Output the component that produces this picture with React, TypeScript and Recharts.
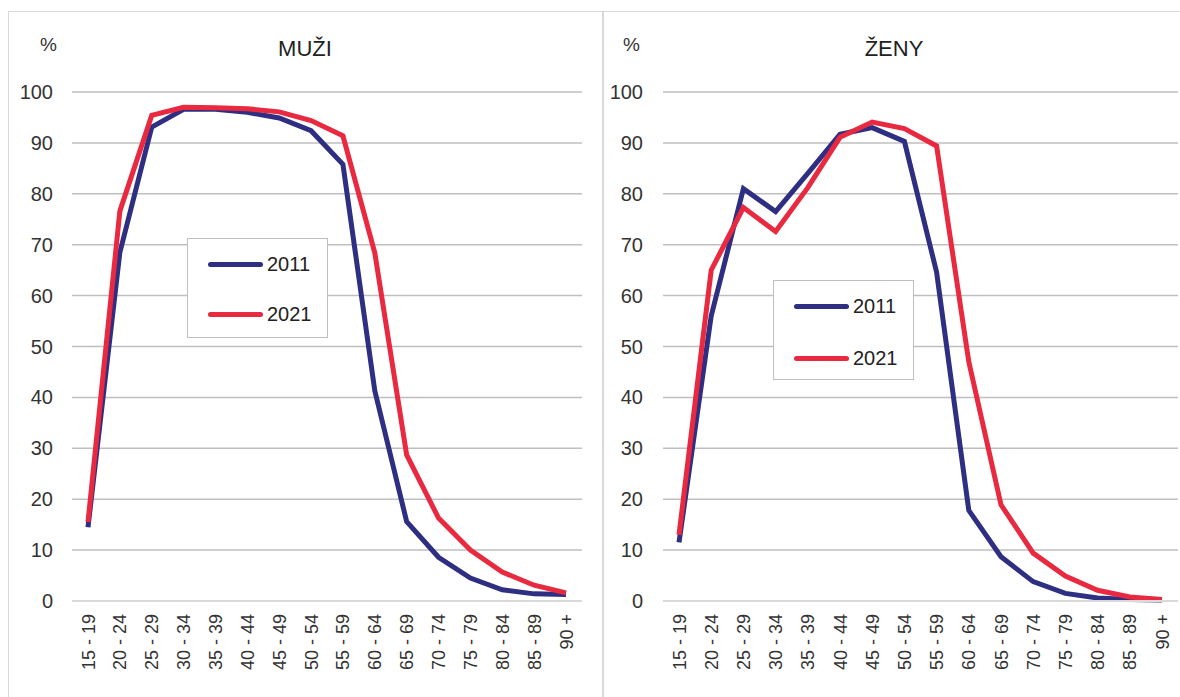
import React from "react";
import { LineChart, Line, XAxis, YAxis, CartesianGrid, Legend } from "recharts";

const ageGroups = [
  "15 - 19", "20 - 24", "25 - 29", "30 - 34", "35 - 39", "40 - 44", "45 - 49", "50 - 54",
  "55 - 59", "60 - 64", "65 - 69", "70 - 74", "75 - 79", "80 - 84", "85 - 89", "90 +",
];

const yTicks = [0, 10, 20, 30, 40, 50, 60, 70, 80, 90, 100];

const menY2011 = [14.5, 68.5, 93.1, 96.6, 96.6, 96.0, 94.9, 92.4, 85.8, 41.3, 15.6, 8.6, 4.5, 2.2, 1.4, 1.3];
const menY2021 = [15.5, 76.6, 95.4, 97.0, 96.9, 96.7, 96.1, 94.4, 91.4, 68.4, 28.7, 16.3, 10.0, 5.7, 3.1, 1.6];

const womenY2011 = [11.5, 56.0, 81.0, 76.5, 84.0, 91.7, 93.0, 90.3, 64.6, 17.8, 8.7, 3.8, 1.5, 0.6, 0.3, 0.2];
const womenY2021 = [13.0, 65.0, 77.3, 72.6, 81.2, 91.1, 94.1, 92.8, 89.4, 47.0, 18.9, 9.4, 4.9, 2.1, 0.8, 0.3];

const BLUE = "#2E2F82";
const RED = "#E8293F";
const GRID = "#BFBFBF";
const FONT = "'Liberation Sans', Arial, sans-serif";

const buildRows = (a: number[], b: number[]) =>
  ageGroups.map((g, i) => ({ group: g, y2011: a[i], y2021: b[i] }));

const XTick = (props: any) => {
  const { x, y, payload } = props;
  const tx = x + 6.5;
  const ty = y + 5;
  return (
    <text
      x={tx}
      y={ty}
      transform={`rotate(-90, ${tx}, ${ty})`}
      textAnchor="end"
      fontSize={18}
      fill="#333"
      fontFamily={FONT}
    >
      {payload.value}
    </text>
  );
};

const YTick = (props: any) => {
  const { x, y, payload, gap } = props;
  return (
    <text x={x - gap} y={y + 7} textAnchor="end" fontSize={20} fill="#333" fontFamily={FONT}>
      {payload.value}
    </text>
  );
};

const makeLegend = (rowTops: [number, number]) => () => (
  <div
    style={{
      width: 141,
      height: 100,
      border: `1.5px solid ${GRID}`,
      boxSizing: "border-box",
      background: "#fff",
      position: "relative",
      fontFamily: FONT,
    }}
  >
    {[
      { label: "2011", color: BLUE },
      { label: "2021", color: RED },
    ].map((it, i) => (
      <div
        key={it.label}
        style={{ position: "absolute", left: 20, top: rowTops[i] - 12, height: 24, display: "flex", alignItems: "center" }}
      >
        <div style={{ width: 55, height: 5, borderRadius: 3, background: it.color }} />
        <span style={{ marginLeft: 4, fontSize: 20, color: "#222" }}>{it.label}</span>
      </div>
    ))}
  </div>
);

type PanelProps = {
  title: string;
  rows: { group: string; y2011: number; y2021: number }[];
  left: number;
  width: number;
  yAxisWidth: number;
  rightMargin: number;
  tickGap: number;
  legendPos: { left: number; top: number };
  legendRows: [number, number];
  titleX: number;
  pctX: number;
};

const Panel = ({ title, rows, left, width, yAxisWidth, rightMargin, tickGap, legendPos, legendRows, titleX, pctX }: PanelProps) => (
  <div style={{ position: "absolute", left, top: 11, width, height: 686 }}>
    <div style={{ position: "absolute", left: pctX, top: 23, fontFamily: FONT, fontSize: 19, color: "#333" }}>%</div>
    <div
      style={{
        position: "absolute",
        left: titleX - 100,
        width: 200,
        textAlign: "center",
        top: 25,
        fontFamily: FONT,
        fontSize: 22,
        color: "#222",
      }}
    >
      {title}
    </div>
    <LineChart width={width} height={686} data={rows} margin={{ top: 81, right: rightMargin, bottom: 0, left: 0 }}>
      <CartesianGrid vertical={false} stroke={GRID} strokeWidth={1.5} />
      <XAxis
        dataKey="group"
        axisLine={{ stroke: "#D9D9D9", strokeWidth: 2 }}
        tickLine={false}
        interval={0}
        height={96}
        padding={{ left: 16, right: 16 }}
        tick={<XTick />}
      />
      <YAxis
        domain={[0, 100]}
        ticks={yTicks}
        width={yAxisWidth}
        axisLine={false}
        tickLine={false}
        tick={<YTick gap={tickGap} />}
      />
      <Legend
        layout="vertical"
        align="center"
        verticalAlign="middle"
        content={makeLegend(legendRows)}
        wrapperStyle={{ left: legendPos.left, top: legendPos.top, width: 141, height: 100 }}
      />
      <Line dataKey="y2011" name="2011" stroke={BLUE} strokeWidth={5} dot={false} isAnimationActive={false} />
      <Line dataKey="y2021" name="2021" stroke={RED} strokeWidth={5} dot={false} isAnimationActive={false} />
    </LineChart>
  </div>
);

export default function App() {
  return (
    <div style={{ position: "absolute", left: 0, top: 0, width: 1180, height: 697, background: "#fff", overflow: "hidden" }}>
      <div style={{ position: "absolute", left: 8, top: 11, width: 1180, height: 1, background: "#D9D9D9" }} />
      <div style={{ position: "absolute", left: 8, top: 11, width: 1, height: 700, background: "#D9D9D9" }} />
      <div style={{ position: "absolute", left: 602, top: 11, width: 2, height: 700, background: "#D9D9D9" }} />
      <Panel
        title="MUŽI"
        rows={buildRows(menY2011, menY2021)}
        left={8}
        width={594}
        yAxisWidth={64}
        rightMargin={20}
        tickGap={11}
        legendPos={{ left: 179, top: 227 }}
        legendRows={[25, 75]}
        titleX={297}
        pctX={32}
      />
      <Panel
        title="ŽENY"
        rows={buildRows(womenY2011, womenY2021)}
        left={604}
        width={578}
        yAxisWidth={59}
        rightMargin={4}
        tickGap={12}
        legendPos={{ left: 169, top: 269 }}
        legendRows={[25, 77]}
        titleX={290}
        pctX={19}
      />
    </div>
  );
}
